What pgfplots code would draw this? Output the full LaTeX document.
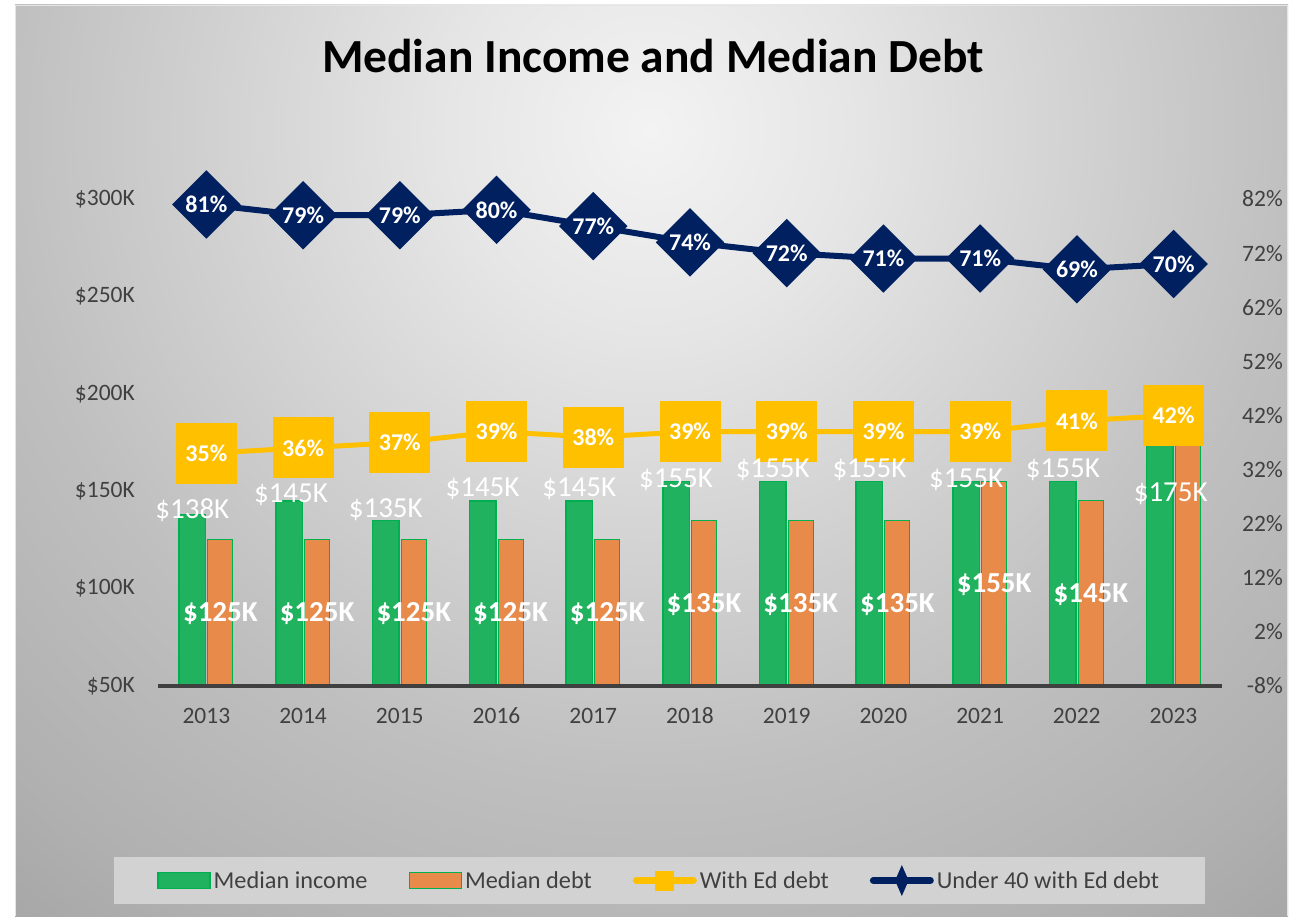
\documentclass[border=0pt]{standalone}
\usepackage{pgfplots}
\pgfplotsset{compat=1.18}
\usepackage{fontspec}
\setmainfont{Carlito}
\definecolor{incgreen}{RGB}{33,178,96}
\definecolor{incborder}{RGB}{0,176,80}
\definecolor{debtorange}{RGB}{232,138,74}
\definecolor{edyellow}{RGB}{255,192,0}
\definecolor{navy}{RGB}{0,32,96}
\definecolor{textgray}{RGB}{64,64,64}
\definecolor{axisgray}{RGB}{64,64,64}
\definecolor{legendfill}{RGB}{210,210,210}
\definecolor{bgA}{RGB}{243,243,243}
\definecolor{bgB}{RGB}{230,230,230}
\definecolor{bgC}{RGB}{208,208,208}
\definecolor{bgD}{RGB}{191,191,191}
\definecolor{bgE}{RGB}{176,176,176}
\definecolor{bgF}{RGB}{168,168,168}
\pgfdeclareradialshading{bgshade}{\pgfpoint{0bp}{0bp}}{color(0bp)=(bgA); color(5bp)=(bgB); color(11.25bp)=(bgC); color(16.25bp)=(bgD); color(22.5bp)=(bgE); color(25bp)=(bgF); color(50bp)=(bgF)}
\pgfplotsset{/pgf/number format/assume math mode=true, /pgf/number format/1000 sep={}}
\newcommand{\tickfont}{\fontsize{23.5}{28}\selectfont}
\pgfplotsset{
  base/.style={at={(158pt,230pt)}, anchor=south west, scale only axis,
    width=1064pt, height=487pt, xmin=2012.5, xmax=2023.5,
    major tick length=0pt, tick style={draw=none},
    ticklabel style={font=\tickfont, text=textgray, inner sep=0pt}},
  barleg/.style={legend image code/.code={\draw[##1] (0pt,-8pt) rectangle (52pt,8pt);}},
}
\begin{document}
\begin{tikzpicture}[x=1pt,y=1pt]
\fill[white] (0,0) rectangle (1296,916);
\begin{scope}
\clip (15,0) rectangle (1288,911);
\shade[shading=bgshade] (-350,-214) rectangle (1650,1786);
\end{scope}
\draw[white!80!gray, line width=1pt] (15.5,0) -- (15.5,910.5) -- (1287.5,910.5) -- (1287.5,0);
\node[anchor=base, font=\bfseries\fontsize{47.5}{50}\selectfont, text=black] at (653,843.7) {Median Income and Median Debt};

\begin{axis}[base, ymin=50, ymax=300, ytick={50,100,...,300}, xtick={2013,2014,...,2023},
  axis x line=bottom, axis y line=left,
  x axis line style={-, draw=axisgray, line width=4.5pt}, y axis line style={draw=none},
  yticklabel={\$\pgfmathprintnumber{\tick}K},
  yticklabel style={anchor=east, xshift=-23pt},
  xticklabel style={anchor=center, yshift=-30pt},
  axis on top]
\addplot[ybar, bar width=26.5pt, bar shift=-14pt, fill=incgreen, draw=incborder, line width=1.5pt]
  coordinates {(2013,138) (2014,145) (2015,135) (2016,145) (2017,145) (2018,155) (2019,155) (2020,155) (2021,155) (2022,155) (2023,175)};
\addplot[ybar, bar width=25pt, bar shift=14pt, fill=debtorange, draw=incborder, line width=1pt]
  coordinates {(2013,125) (2014,125) (2015,125) (2016,125) (2017,125) (2018,135) (2019,135) (2020,135) (2021,155) (2022,145) (2023,175)};
\end{axis}

\begin{axis}[base, ymin=-8, ymax=82, ytick={-8,2,...,82},
  axis y line*=right, axis x line=none, y axis line style={draw=none},
  yticklabel={\pgfmathprintnumber{\tick}\%},
  yticklabel style={anchor=east, xshift=61pt},
  clip=false,
  legend columns=4,
  legend cell align=left,
  legend style={at={(axis description cs:0.4714,-0.3994)}, anchor=center,
    fill=legendfill, draw=none, font=\fontsize{24.3}{28}\selectfont, text=textgray,
    inner xsep=43pt, inner ysep=10pt,
    nodes={inner xsep=3pt, inner ysep=4pt},
    /tikz/every even column/.append style={column sep=38pt}}]
\addlegendimage{barleg, fill=incgreen, draw=incborder, line width=1.5pt}
\addlegendentry{Median income}
\addlegendimage{barleg, fill=debtorange, draw=incborder, line width=1.5pt}
\addlegendentry{Median debt}
\addplot[edyellow, line width=5pt, mark=square*, mark size=28pt,
  mark options={solid, draw=none, fill=edyellow},
  nodes near coords={\pgfmathprintnumber{\pgfplotspointmeta}\%},
  every node near coord/.style={anchor=center, text=white, font=\bfseries\fontsize{24}{28}\selectfont},
  legend image code/.code={
    \draw[edyellow, line width=7pt, line cap=round] (0pt,0pt) -- (57pt,0pt);
    \fill[edyellow] (21.5pt,-7.5pt) rectangle (35.5pt,7.5pt);}]
  coordinates {(2013,35) (2014,36) (2015,37) (2016,39) (2017,38) (2018,39) (2019,39) (2020,39) (2021,39) (2022,41) (2023,42)};
\addlegendentry{With Ed debt}
\addplot[navy, line width=6pt, mark=square*, mark size=21.2pt,
  mark options={solid, draw=none, fill=navy, rotate=45},
  nodes near coords={\pgfmathprintnumber{\pgfplotspointmeta}\%},
  every node near coord/.style={anchor=center, text=white, font=\bfseries\fontsize{24}{28}\selectfont},
  legend image code/.code={
    \draw[navy, line width=7pt, line cap=round] (0pt,0pt) -- (57pt,0pt);
    \fill[navy] (28.5pt,-8pt) -- (32pt,0pt) -- (28.5pt,8pt) -- (25pt,0pt) -- cycle;}]
  coordinates {(2013,81) (2014,79) (2015,79) (2016,80) (2017,77) (2018,74) (2019,72) (2020,71) (2021,71) (2022,69) (2023,70)};
\addlegendentry{Under 40 with Ed debt}
\end{axis}

\begin{axis}[base, ymin=50, ymax=300, hide axis, clip=false]
% income labels
\addplot[draw=none, mark=none, point meta=explicit,
  nodes near coords={\$\pgfmathprintnumber{\pgfplotspointmeta}K},
  every node near coord/.style={anchor=center, text=white, font=\fontsize{29}{32}\selectfont}]
  table[x=x, y=y, meta=v] {
x y v
2012.855 140.4 138
2013.875 148.1 145
2014.855 140.4 135
2015.855 151.2 145
2016.855 151.2 145
2017.855 155.8 155
2018.855 161.2 155
2019.855 161.2 155
2020.855 155.8 155
2021.855 161.2 155
2022.970 148.6 175
};
% debt labels
\addplot[draw=none, mark=none, point meta=explicit,
  nodes near coords={\$\pgfmathprintnumber{\pgfplotspointmeta}K},
  every node near coord/.style={anchor=center, text=white, font=\bfseries\fontsize{29}{32}\selectfont}]
  table[x=x, y=y, meta=v] {
x y v
2013.145 87.0 125
2014.145 87.0 125
2015.145 87.0 125
2016.145 87.0 125
2017.145 87.0 125
2018.145 92.0 135
2019.145 92.0 135
2020.145 92.0 135
2021.145 102.0 155
2022.145 97.0 145
};
\end{axis}
\end{tikzpicture}
\end{document}
